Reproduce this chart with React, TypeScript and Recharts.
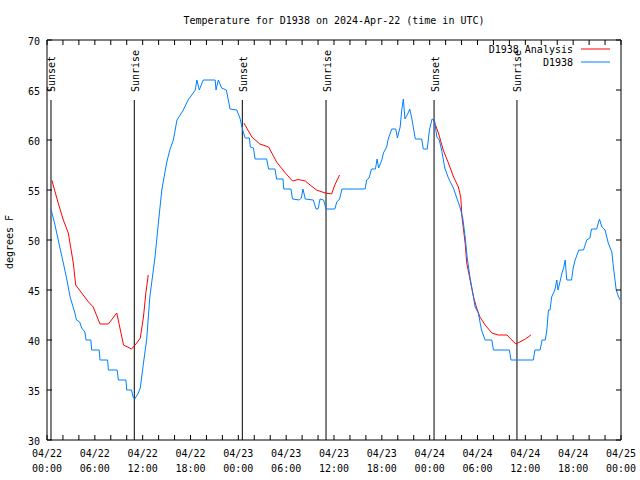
import { LineChart, Line, XAxis, YAxis, ReferenceLine, ReferenceArea, Legend } from "recharts";

// hours since 04/22 00:00 UTC -> observed temperature (F)
const obsHours = [
  0.5, 1.0, 1.6, 2.05, 2.5, 2.9, 3.5, 3.7, 4.1, 4.35, 4.75, 4.9, 5.5, 5.6, 6.55, 6.65, 7.6, 7.7, 8.8, 8.95, 9.9,
  10.0, 10.6, 10.8, 11.0, 11.4, 11.7,
  12.1, 12.5, 12.9, 13.55, 13.97, 14.4, 15.0, 15.4, 15.85, 16.3, 17.1, 17.7, 18.6, 18.8, 19.1, 19.6, 21.1, 21.2,
  21.5, 21.9, 22.5, 22.96, 23.8, 24.2, 24.55, 24.85, 25.4, 25.5, 25.9, 26.1, 27.55, 27.8, 28.6, 28.8, 29.6, 29.7, 30.6,
  30.8, 31.65, 31.9, 32.1, 32.4, 33.4, 33.75, 34.0, 34.25, 34.7, 35.0, 36.1, 36.35, 36.7, 37.0, 39.9, 40.1, 40.4,
  40.7, 41.2, 41.4, 41.6, 42.0, 42.2, 42.6, 42.8, 43.25, 43.75, 43.95, 44.3, 44.5, 44.7, 44.9, 45.3, 45.5, 45.75,
  46.2, 47.0, 47.2, 47.7, 47.97, 48.3, 48.6, 48.9, 49.2, 49.5, 49.9, 50.35, 50.98, 51.4, 51.8, 52.15, 52.45, 52.7,
  53.05, 53.5, 53.7, 54.1, 54.5, 54.96, 55.8, 56.0, 58.0, 58.2, 61.0, 61.2, 61.85, 62.1, 62.5, 62.7, 62.9, 63.1,
  63.3, 63.7, 63.95, 64.1, 64.4, 64.6, 64.8, 65.0, 65.2, 65.8, 66.0, 66.25, 66.7, 67.3, 67.7, 68.1, 68.3, 68.95,
  69.3, 69.6, 70.0, 70.4, 70.85, 71.05, 71.4, 71.7, 71.9,
];
const obsTemps = [
  53.1, 51.5, 49.3, 47.7, 46.0, 44.3, 42.7, 42.0, 41.8, 41.2, 40.8, 40.0, 40.0, 39.0, 39.0, 38.0, 38.0, 37.0, 37.0, 36.0, 36.0,
  35.0, 35.0, 34.3, 34.1, 34.6, 35.2,
  37.7, 40.0, 44.3, 48.3, 51.7, 55.0, 57.7, 59.0, 60.0, 62.0, 63.0, 64.0, 65.0, 66.0, 65.0, 66.0, 66.0, 65.0,
  66.0, 65.2, 65.0, 63.1, 63.0, 62.2, 61.0, 60.2, 60.2, 59.3, 59.2, 58.1, 58.1, 57.1, 57.1, 56.1, 56.1, 55.1, 55.1,
  54.1, 54.0, 54.2, 55.1, 54.1, 54.0, 53.1, 53.1, 54.1, 54.0, 53.1, 53.1, 53.8, 54.1, 55.1, 55.1, 56.0, 56.2,
  57.1, 57.1, 58.1, 57.2, 58.0, 58.7, 59.3, 60.1, 61.1, 61.1, 60.2, 61.3, 63.0, 64.1, 62.1, 62.7, 63.1, 62.2,
  60.1, 60.1, 59.1, 59.1, 61.0, 62.1, 62.0, 60.3, 60.0, 59.0, 57.2, 56.2, 55.2, 54.2, 53.3, 52.2, 50.3, 48.3,
  46.3, 44.3, 43.3, 42.7, 41.0, 40.0, 40.0, 39.0, 39.0, 38.0, 38.0, 39.0, 39.0, 40.0, 40.0, 41.0, 43.0, 43.0,
  44.3, 45.0, 46.0, 45.0, 46.0, 46.7, 47.2, 48.0, 46.0, 46.0, 47.2, 48.0, 49.0, 49.0, 50.0, 50.2, 51.1, 51.1,
  52.1, 51.3, 51.0, 49.7, 48.8, 47.3, 45.0, 44.3, 44.0,
];

// analysis runs, null breaks the line between runs
const anaHours = [
  0.6, 1.4, 2.05, 2.67, 3.3, 3.6, 4.35, 5.2, 5.8, 6.65, 7.7, 8.75, 9.6, 10.6, 11.25, 11.7, 12.1, 12.4, 12.7,
  18.0,
  24.7, 25.7, 26.7, 27.8, 28.8, 29.9, 30.8, 31.5, 32.4, 33.0, 33.8, 34.9, 35.7, 36.1, 36.7,
  42.0,
  48.5, 49.1, 49.7, 50.35, 51.0, 51.6, 51.9, 52.05, 52.25, 52.45, 52.65, 53.0, 53.5, 53.9, 54.3, 54.96, 55.8,
  56.6, 57.7, 58.3, 58.8, 59.3, 60.0, 60.7,
];
const anaTemps = [
  56.0, 53.7, 52.0, 50.7, 47.7, 45.5, 44.7, 43.8, 43.3, 41.6, 41.6, 42.7, 39.5, 39.1, 39.7, 40.2, 42.3, 44.7, 46.5,
  null,
  61.7, 60.3, 59.6, 59.3, 57.8, 56.7, 55.9, 56.05, 55.9, 55.5, 55.0, 54.7, 54.6, 55.5, 56.5,
  null,
  62.0, 60.7, 59.0, 57.7, 56.3, 55.3, 54.3, 52.3, 51.0, 49.7, 47.7, 46.3, 44.3, 43.2, 42.3, 41.5, 40.7,
  40.5, 40.5, 40.0, 39.6, 39.8, 40.1, 40.5,
];

const sunHours = [0.5, 10.95, 24.5, 35.0, 48.55, 58.95];
const sunNames = ["Sunset", "Sunrise", "Sunset", "Sunrise", "Sunset", "Sunrise"];

const xTicks = [0, 6, 12, 18, 24, 30, 36, 42, 48, 54, 60, 66, 72];
const xMinorTicks = Array.from({ length: 37 }, (_, i) => i * 2);
const dayLabels = ["04/22", "04/22", "04/22", "04/22", "04/23", "04/23", "04/23", "04/23", "04/24", "04/24", "04/24", "04/24", "04/25"];
const timeLabels = ["00:00", "06:00", "12:00", "18:00", "00:00", "06:00", "12:00", "18:00", "00:00", "06:00", "12:00", "18:00", "00:00"];
const yTicks = [30, 35, 40, 45, 50, 55, 60, 65, 70];

const obsData = obsHours.map((h, i) => ({ h, temp: obsTemps[i] }));
const anaData = anaHours.map((h, i) => ({ h, temp: anaTemps[i] }));

const FONT = "'DejaVu Sans Mono', monospace";
const RED = "#ff0000";
const BLUE = "#0080ff";

function TimeTick({ x, payload }: any) {
  const i = xTicks.indexOf(payload.value);
  return (
    <text x={x} textAnchor="middle" fontFamily={FONT} fontSize={10} fill="#000">
      <tspan x={x} y={457}>{dayLabels[i]}</tspan>
      <tspan x={x} y={472}>{timeLabels[i]}</tspan>
    </text>
  );
}

function TempTick({ x, y, payload }: any) {
  return (
    <text x={x} y={y + 5} textAnchor="end" fontFamily={FONT} fontSize={10} fill="#000">
      {payload.value}
    </text>
  );
}

// inner tick marks only, no text
function NoTick() {
  return null;
}

function sunLabel(name: string) {
  return (props: any) => {
    const vb = props.viewBox || {};
    const lx = vb.x + 4.5;
    return (
      <text transform={`translate(${lx}, 92) rotate(-90)`} textAnchor="start" fontFamily={FONT} fontSize={10} fill="#000">
        {name}
      </text>
    );
  };
}

function renderLegend() {
  return (
    <svg width={180} height={30} style={{ display: "block" }}>
      <text x={133} y={13} textAnchor="end" fontFamily={FONT} fontSize={10} fill="#000">D1938 Analysis</text>
      <line x1={141} x2={170} y1={9} y2={9} stroke={RED} strokeWidth={1} />
      <text x={133} y={26} textAnchor="end" fontFamily={FONT} fontSize={10} fill="#000">D1938</text>
      <line x1={141} x2={170} y1={22} y2={22} stroke={BLUE} strokeWidth={1} />
    </svg>
  );
}

export default function App() {
  return (
    <div style={{ width: 640, height: 480, background: "#fff", position: "relative" }}>
      <style>{`body{margin:0}`}</style>
      <LineChart width={640} height={480} margin={{ top: 40, right: 19, bottom: 0, left: 0 }}>
        <XAxis
          dataKey="h"
          type="number"
          domain={[0, 72]}
          ticks={xTicks}
          tick={<TimeTick />}
          tickLine={false}
          axisLine={false}
          height={40}
          interval={0}
          allowDataOverflow
        />
        <XAxis xAxisId="ib" dataKey="h" type="number" domain={[0, 72]} ticks={xMinorTicks} interval={0}
          orientation="bottom" mirror tick={<NoTick />} tickSize={5} tickLine={{ stroke: "#000" }} axisLine={false} height={20} allowDataOverflow />
        <XAxis xAxisId="it" dataKey="h" type="number" domain={[0, 72]} ticks={xMinorTicks} interval={0}
          orientation="top" mirror tick={<NoTick />} tickSize={5} tickLine={{ stroke: "#000" }} axisLine={false} height={20} allowDataOverflow />
        <YAxis
          type="number"
          domain={[30, 70]}
          ticks={yTicks}
          tick={<TempTick />}
          tickLine={false}
          axisLine={false}
          tickSize={6}
          tickMargin={1}
          width={47}
          interval={0}
          allowDataOverflow
        />
        <YAxis yAxisId="il" type="number" domain={[30, 70]} ticks={yTicks} interval={0}
          orientation="left" mirror tick={<NoTick />} tickSize={5} tickLine={{ stroke: "#000" }} axisLine={false} width={20} allowDataOverflow />
        <YAxis yAxisId="ir" type="number" domain={[30, 70]} ticks={yTicks} interval={0}
          orientation="right" mirror tick={<NoTick />} tickSize={5} tickLine={{ stroke: "#000" }} axisLine={false} width={20} allowDataOverflow />
        <ReferenceArea x1={0} x2={72} y1={30} y2={70} fill="none" stroke="#000" strokeWidth={1} ifOverflow="visible" />
        {sunHours.map((h, i) => (
          <ReferenceLine
            key={i}
            segment={[{ x: h, y: 64 }, { x: h, y: 30 }]}
            stroke="#000"
            strokeWidth={1}
            label={sunLabel(sunNames[i])}
          />
        ))}
        <Line data={anaData} dataKey="temp" name="D1938 Analysis" type="linear" stroke={RED} strokeWidth={1}
          dot={false} activeDot={false} isAnimationActive={false} connectNulls={false} />
        <Line data={obsData} dataKey="temp" name="D1938" type="linear" stroke={BLUE} strokeWidth={1}
          dot={false} activeDot={false} isAnimationActive={false} />
        <Legend layout="horizontal" verticalAlign="middle" align="center" content={renderLegend}
          wrapperStyle={{ top: 40, left: 440, width: 180, height: 30 }} />
        <text x={334} y={24} textAnchor="middle" fontFamily={FONT} fontSize={10} fill="#000">
          Temperature for D1938 on 2024-Apr-22 (time in UTC)
        </text>
        <text transform="translate(13, 242) rotate(-90)" textAnchor="middle" fontFamily={FONT} fontSize={10} fill="#000">
          degrees F
        </text>
      </LineChart>
    </div>
  );
}
